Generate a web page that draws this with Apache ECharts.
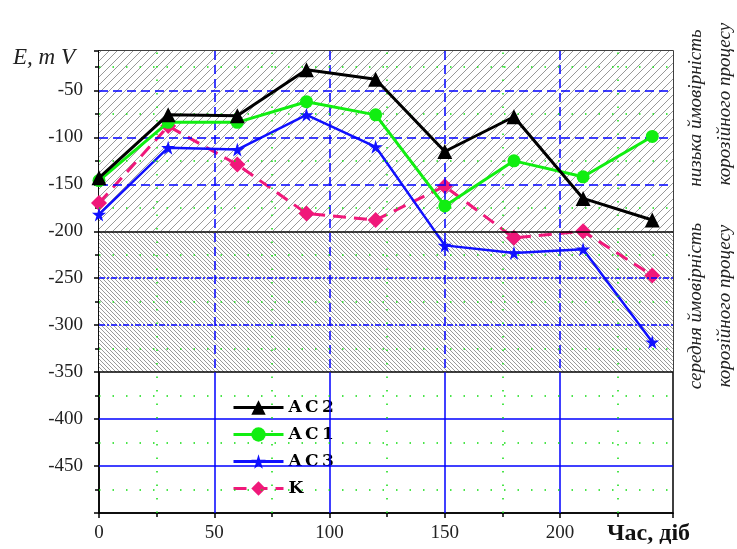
<!DOCTYPE html>
<html>
<head>
<meta charset="utf-8">
<script src="https://cdn.jsdelivr.net/npm/echarts@6/dist/echarts.min.js"></script>
<style>
  html, body { margin: 0; padding: 0; background: #fff; }
  #chart { width: 737px; height: 549px; }
</style>
</head>
<body>
<div id="chart"></div>
<script>
// час, діб
var days = [0, 30, 60, 90, 120, 150, 180, 210, 240];
// потенціали, mV
var ac2 = [-143, -76, -77, -28, -38, -115, -78, -165, -188];
var ac1 = [-146, -84, -84, -62, -76, -173, -125, -142, -99];
var ac3 = [-182, -111, -113, -76, -110, -215, -223, -219, -318];
var kk  = [-170, -88, -129, -181, -188, -152, -207, -200, -247];

var seriesNames = ['AC2', 'AC1', 'AC3', 'K'];
var majorY = [-50, -100, -150, -250, -300, -400, -450];
var minorY = [-25, -75, -125, -175, -225, -275, -325, -375, -425, -475];
var majorX = [50, 100, 150, 200];
var minorX = [25, 75, 125, 175, 225];

var serif = "'Liberation Serif', 'DejaVu Serif', serif";

function hatch(step, dir, color, lw) {
  var c = document.createElement('canvas');
  c.width = c.height = step;
  var g = c.getContext('2d');
  g.fillStyle = '#fff';
  g.fillRect(0, 0, step, step);
  g.strokeStyle = color;
  g.lineWidth = lw;
  g.beginPath();
  if (dir === '/') {
    g.moveTo(0, step); g.lineTo(step, 0);
    g.moveTo(-1, 1); g.lineTo(1, -1);
    g.moveTo(step - 1, step + 1); g.lineTo(step + 1, step - 1);
  } else {
    g.moveTo(0, 0); g.lineTo(step, step);
    g.moveTo(-1, step - 1); g.lineTo(1, step + 1);
    g.moveTo(step - 1, -1); g.lineTo(step + 1, 1);
  }
  g.stroke();
  return c;
}

function pts(arr) {
  return days.map(function (d, i) { return [d, arr[i]]; });
}

var star = 'path://M50,0 L61,35 L98,35 L68,57 L79,91 L50,70 L21,91 L32,57 L2,35 L39,35 Z';

// лінії сітки
var gridLines = [];
majorY.forEach(function (v) {
  var st;
  if (v > -200) st = { color: '#0000ff', type: [9, 5], width: 1.5 };
  else if (v > -350) st = { color: '#0000ff', type: [6, 2, 2, 2], width: 1.5 };
  else st = { color: '#0000ff', type: 'solid', width: 1.5 };
  gridLines.push({ yAxis: v, lineStyle: st });
});
[-200, -350].forEach(function (v) {
  gridLines.push({ yAxis: v, lineStyle: { color: '#000', type: 'solid', width: 1.5 } });
});
majorX.forEach(function (v) {
  gridLines.push([{ coord: [v, -8], lineStyle: { color: '#0000ff', type: [9, 5], width: 1.5 } }, { coord: [v, -350] }]);
  gridLines.push([{ coord: [v, -350], lineStyle: { color: '#0000ff', type: 'solid', width: 1.5 } }, { coord: [v, -500] }]);
});
minorY.forEach(function (v) {
  gridLines.push({ yAxis: v, lineStyle: { color: '#11dd11', type: [1.5, 12], width: 1.5 } });
});
minorX.forEach(function (v) {
  gridLines.push({ xAxis: v, lineStyle: { color: '#11dd11', type: [1.5, 12], width: 1.5 } });
});

var myChart = echarts.init(document.getElementById('chart'));

var option = {
  backgroundColor: '#fff',
  animation: false,
  grid: {
    left: 99, top: 51, right: 64, bottom: 36,
    show: true, borderColor: '#000', borderWidth: 1.5, backgroundColor: 'transparent'
  },
  xAxis: {
    type: 'value', min: 0, max: 249, interval: 50,
    axisLine: { lineStyle: { color: '#000', width: 1.5 } },
    axisTick: { length: 5, lineStyle: { color: '#000', width: 1.5 } },
    minorTick: { show: true, splitNumber: 2, length: 4, lineStyle: { color: '#000', width: 1.5 } },
    splitLine: { show: false },
    axisLabel: { showMaxLabel: false, margin: 11, color: '#222', fontFamily: serif, fontSize: 19 }
  },
  yAxis: {
    type: 'value', min: -500, max: -8, interval: 50,
    axisLine: { onZero: false, lineStyle: { color: '#000', width: 1.5 } },
    axisTick: { length: 5, lineStyle: { color: '#000', width: 1.5 } },
    minorTick: { show: true, splitNumber: 2, length: 4, lineStyle: { color: '#000', width: 1.5 } },
    splitLine: { show: false },
    axisLabel: { showMaxLabel: false, showMinLabel: false, margin: 16, color: '#222', fontFamily: serif, fontSize: 19 }
  },
  legend: {
    data: seriesNames,
    orient: 'vertical',
    left: 227, top: 394,
    itemWidth: 50, itemHeight: 18, itemGap: 10,
    lineStyle: { width: 3 },
    formatter: function (name) { return name.split('').join('\u2009'); },
    textStyle: { fontFamily: "'DejaVu Serif', serif", fontWeight: 'bold', fontSize: 17, color: '#000' }
  },
  series: [
    {
      name: 'zones', type: 'line', data: [], silent: true,
      markArea: {
        silent: true,
        data: [
          [{ yAxis: -8, itemStyle: { color: { image: hatch(8, '/', '#999', 1), repeat: 'repeat' } } }, { yAxis: -200 }],
          [{ yAxis: -200, itemStyle: { color: { image: hatch(4, '\\', '#9a9a9a', 1), repeat: 'repeat' } } }, { yAxis: -350 }]
        ]
      },
      markLine: { silent: true, symbol: 'none', label: { show: false }, data: gridLines }
    },
    {
      name: 'K', type: 'line', data: pts(kk), z: 3,
      symbol: 'diamond', symbolSize: 16,
      lineStyle: { color: '#f0187a', width: 3, type: [13, 8] },
      itemStyle: { color: '#f0187a' }
    },
    {
      name: 'AC3', type: 'line', data: pts(ac3), z: 4,
      symbol: star, symbolSize: 14,
      lineStyle: { color: '#1010ff', width: 2.5 },
      itemStyle: { color: '#1010ff' }
    },
    {
      name: 'AC1', type: 'line', data: pts(ac1), z: 5,
      symbol: 'circle', symbolSize: 13,
      lineStyle: { color: '#11ee11', width: 3 },
      itemStyle: { color: '#11ee11' }
    },
    {
      name: 'AC2', type: 'line', data: pts(ac2), z: 6,
      symbol: 'triangle', symbolSize: 15,
      lineStyle: { color: '#000', width: 3 },
      itemStyle: { color: '#000' }
    }
  ],
  graphic: [
    { type: 'text', left: 13, top: 46, style: { text: 'E, m V', font: 'italic 23px ' + serif, fill: '#222' } },
    { type: 'text', left: 607, top: 522, style: { text: 'Час, діб', font: 'bold 24px ' + serif, fill: '#111' } },
    { type: 'text', x: 696, y: 108, rotation: Math.PI / 2,
      style: { text: 'низька ймовірність', x: 0, y: 0, align: 'center', verticalAlign: 'middle', font: 'italic 19px ' + serif, fill: '#222' } },
    { type: 'text', x: 725, y: 104, rotation: Math.PI / 2,
      style: { text: 'корозійного процесу', x: 0, y: 0, align: 'center', verticalAlign: 'middle', font: 'italic 19px ' + serif, fill: '#222' } },
    { type: 'text', x: 696, y: 306, rotation: Math.PI / 2,
      style: { text: 'середня ймовірність', x: 0, y: 0, align: 'center', verticalAlign: 'middle', font: 'italic 19px ' + serif, fill: '#222' } },
    { type: 'text', x: 725, y: 306, rotation: Math.PI / 2,
      style: { text: 'корозійного процесу', x: 0, y: 0, align: 'center', verticalAlign: 'middle', font: 'italic 19px ' + serif, fill: '#222' } }
  ]
};

myChart.setOption(option);
</script>
</body>
</html>
